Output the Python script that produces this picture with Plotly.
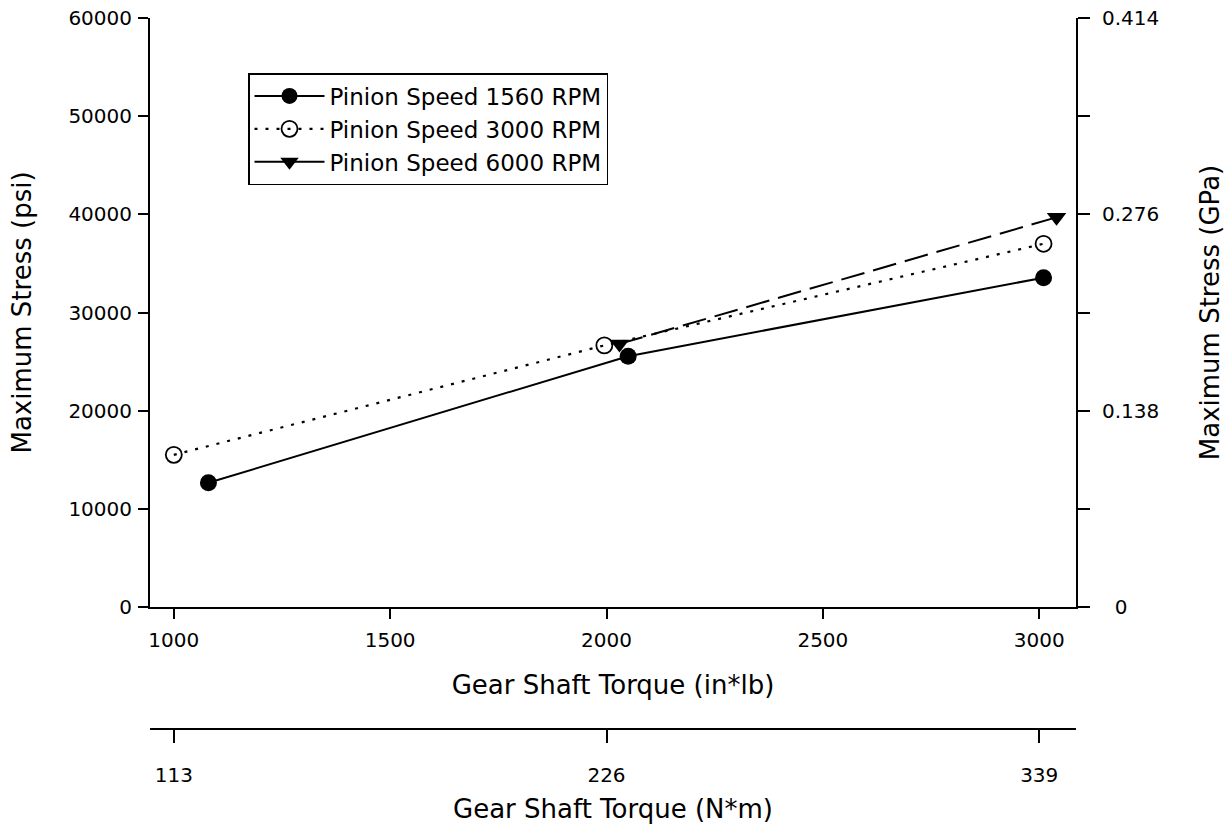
import plotly.graph_objects as go

# Data (Gear shaft torque in*lb, maximum stress psi)
torque_1560 = [1080, 2050, 3010]
stress_1560 = [12650, 25550, 33550]
torque_3000 = [1000, 1995, 3010]
stress_3000 = [15500, 26650, 37000]
torque_6000 = [2030, 3040]
stress_6000 = [26800, 39700]

names = ["Pinion Speed 1560 RPM", "Pinion Speed 3000 RPM", "Pinion Speed 6000 RPM"]

x_range = [945, 3085]
y_range = [0, 60000]
x_ticks = [1000, 1500, 2000, 2500, 3000]
psi_ticks = [0, 10000, 20000, 30000, 40000, 50000, 60000]
gpa_ticks = [0, 0.069, 0.138, 0.207, 0.276, 0.345, 0.414]
gpa_text = ["\u00a0\u00a00", "", "0.138", "", "0.276", "", "0.414"]
nm_ticks = [113, 226, 339]
in_lb_to_nm = 0.113

FONT = "DejaVu Sans, Liberation Sans, Arial, sans-serif"
W, H = 1225, 836
L, R, T, B = 150, 149, 18, 96
plot_h = H - T - B
y_bottom_px = 607
ydom0 = (H - B - y_bottom_px) / plot_h
x2_pos = (H - B - 729) / plot_h

fig = go.Figure()

fig.add_trace(go.Scatter(
    x=torque_1560, y=stress_1560, name=names[0], mode="lines+markers",
    line=dict(color="black", width=2, dash="solid"),
    marker=dict(symbol="circle", size=17, color="black"),
))
fig.add_trace(go.Scatter(
    x=torque_3000, y=stress_3000, name=names[1], mode="lines+markers",
    line=dict(color="black", width=2.2, dash="3px,8px"),
    marker=dict(symbol="circle-open", size=16, color="black", line=dict(width=1.8)),
))
# legend entry for 6000 RPM (legend shows solid line)
fig.add_trace(go.Scatter(
    x=[None], y=[None], name=names[2], mode="lines+markers",
    line=dict(color="black", width=2, dash="solid"),
    marker=dict(symbol="triangle-down", size=17, color="black"),
))
fig.add_trace(go.Scatter(
    x=torque_6000, y=stress_6000, name=names[2], mode="lines+markers",
    showlegend=False,
    line=dict(color="black", width=2, dash="24px,9px"),
    marker=dict(symbol="triangle-down", size=17, color="black"),
))
# invisible trace to activate secondary axes
fig.add_trace(go.Scatter(
    x=[None], y=[None], xaxis="x2", yaxis="y2", showlegend=False, hoverinfo="skip",
))

axis_font = dict(family=FONT, size=20, color="black")
title_font = dict(family=FONT, size=26, color="black")

fig.update_layout(
    width=W, height=H,
    margin=dict(l=L, r=R, t=T, b=B, autoexpand=False),
    paper_bgcolor="white", plot_bgcolor="white",
    font=dict(family=FONT, color="black"),
    xaxis=dict(
        range=x_range, domain=[0, 1], anchor="y", automargin=False,
        tickvals=x_ticks,
        ticks="outside", ticklen=10, tickwidth=1.5, tickcolor="black",
        showline=True, linecolor="black", linewidth=2,
        showgrid=False, zeroline=False,
        tickfont=axis_font, ticklabelstandoff=4,
        title=dict(text="Gear Shaft Torque (in*lb)", font=title_font, standoff=25),
    ),
    yaxis=dict(
        range=y_range, domain=[ydom0, 1], anchor="x", automargin=False,
        tickvals=psi_ticks, tickformat="d",
        ticks="outside", ticklen=10, tickwidth=1.5, tickcolor="black",
        showline=True, linecolor="black", linewidth=2,
        showgrid=False, zeroline=False,
        tickfont=axis_font, ticklabelstandoff=2,
        title=dict(text="Maximum Stress (psi)", font=title_font, standoff=29),
    ),
    xaxis2=dict(
        overlaying="x", anchor="free", position=x2_pos, side="bottom", automargin=False,
        range=[x_range[0] * in_lb_to_nm, x_range[1] * in_lb_to_nm],
        tickvals=nm_ticks,
        ticks="outside", ticklen=13, tickwidth=1.5, tickcolor="black",
        showline=True, linecolor="black", linewidth=2,
        showgrid=False, zeroline=False,
        tickfont=axis_font, ticklabelstandoff=15,
        title=dict(text="Gear Shaft Torque (N*m)", font=title_font, standoff=13),
    ),
    yaxis2=dict(
        overlaying="y", anchor="x", side="right", automargin=False,
        range=[0, 0.414],
        tickvals=gpa_ticks, ticktext=gpa_text,
        ticks="outside", ticklen=12, tickwidth=1.5, tickcolor="black",
        showline=True, linecolor="black", linewidth=2,
        showgrid=False, zeroline=False,
        tickfont=axis_font, ticklabelstandoff=8,
        title=dict(text="Maximum Stress (GPa)", font=title_font, standoff=45),
    ),
    legend=dict(
        x=(248 - L) / (W - L - R), y=(H - B - 73) / plot_h,
        xanchor="left", yanchor="top",
        bgcolor="white", bordercolor="black", borderwidth=1.5,
        font=dict(family=FONT, size=23, color="black"),
        itemwidth=70, tracegroupgap=0,
    ),
    showlegend=True,
)

fig.write_html(
    "out.html",
    config={"displayModeBar": False},
    post_script="document.body.style.margin='0';",
)
